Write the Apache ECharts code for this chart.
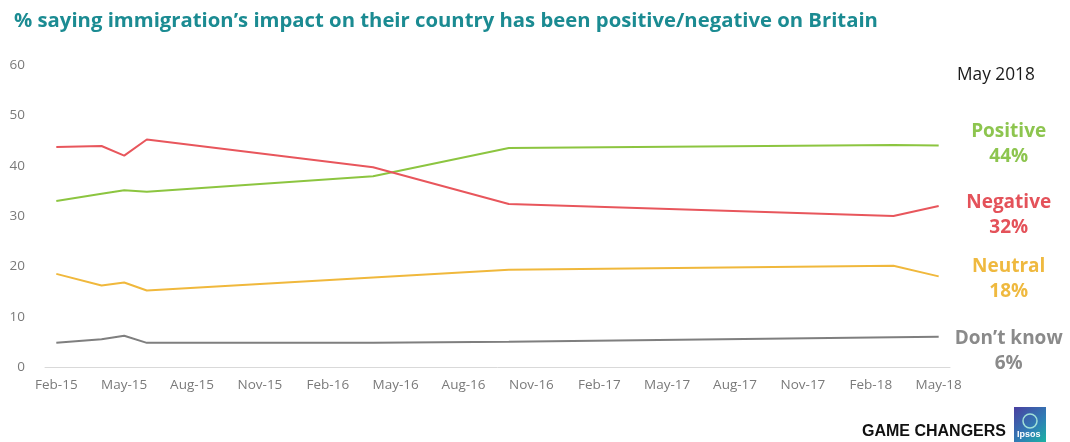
<!DOCTYPE html>
<html>
<head>
<meta charset="utf-8">
<script src="https://cdn.jsdelivr.net/npm/echarts@6/dist/echarts.min.js"></script>
<style>
  html, body { margin: 0; padding: 0; background: #ffffff; }
  #chart { width: 1070px; height: 442px; }
</style>
</head>
<body>
<div id="chart"></div>
<script>
// Monthly category axis, Feb 2015 – May 2018
const months = [
  'Feb-15','Mar-15','Apr-15','May-15','Jun-15','Jul-15','Aug-15','Sep-15','Oct-15','Nov-15','Dec-15',
  'Jan-16','Feb-16','Mar-16','Apr-16','May-16','Jun-16','Jul-16','Aug-16','Sep-16','Oct-16','Nov-16','Dec-16',
  'Jan-17','Feb-17','Mar-17','Apr-17','May-17','Jun-17','Jul-17','Aug-17','Sep-17','Oct-17','Nov-17','Dec-17',
  'Jan-18','Feb-18','Mar-18','Apr-18','May-18'
];

// Survey waves
const waves = ['Feb-15','Apr-15','May-15','Jun-15','Apr-16','Oct-16','Mar-18','May-18'];

const positive = [33, 34.4, 35.1, 34.8, 37.9, 43.5, 44.1, 44];
const negative = [43.7, 43.9, 42, 45.2, 39.7, 32.4, 30, 32];
const neutral  = [18.5, 16.2, 16.8, 15.2, 17.8, 19.3, 20.1, 18];
const dontKnow = [4.8, 5.5, 6.2, 4.8, 4.8, 5, 5.9, 6];

const yTicks = { min: 0, max: 60, step: 10 };

const seriesDefs = [
  { name: 'Positive',   values: positive, line: '#8cc540', text: '#8dc54f', dy: -1 },
  { name: 'Negative',   values: negative, line: '#e8565c', text: '#e4525a', dy: 9 },
  { name: 'Neutral',    values: neutral,  line: '#f0b83c', text: '#efb93f', dy: 3 },
  { name: 'Don\u2019t know', values: dontKnow, line: '#7f7f7f', text: '#8a8a8a', dy: 14 }
];

const chart = echarts.init(document.getElementById('chart'), null, { renderer: 'canvas' });

const series = seriesDefs.map(function (s) {
  return {
    name: s.name,
    type: 'line',
    data: waves.map(function (w, i) { return [w, s.values[i]]; }),
    symbol: 'none',
    connectNulls: true,
    lineStyle: { color: s.line, width: 2 },
    itemStyle: { color: s.line },
    z: 3,
    endLabel: {
      show: true,
      align: 'center',
      offset: [62, s.dy],
      formatter: function (p) {
        return '{n|' + p.seriesName + '}\n{v|' + Math.round(p.value[1]) + '%}';
      },
      rich: {
        n: { fontFamily: 'Open Sans', fontWeight: 'bold', fontSize: 19, color: s.text, lineHeight: 25, align: 'center' },
        v: { fontFamily: 'Open Sans', fontWeight: 'bold', fontSize: 19, color: s.text, lineHeight: 25, align: 'center' }
      }
    }
  };
});

chart.setOption({
  backgroundColor: '#ffffff',
  animation: false,
  title: {
    text: '% saying immigration\u2019s impact on their country has been positive/negative on Britain',
    left: 9,
    top: 6,
    textStyle: { fontFamily: 'Open Sans', fontWeight: 'bold', fontSize: 20.3, color: '#1b8b92' }
  },
  grid: { left: 45, right: 120, top: 65, bottom: 75, containLabel: false },
  xAxis: {
    type: 'category',
    data: months,
    boundaryGap: true,
    axisLine: { show: true, lineStyle: { color: '#d9d9d9', width: 1 } },
    axisTick: { show: false },
    axisLabel: {
      interval: 2,
      margin: 11,
      color: '#7a7a7a',
      fontFamily: 'Open Sans',
      fontSize: 13.5
    },
    splitLine: { show: false }
  },
  yAxis: {
    type: 'value',
    min: yTicks.min,
    max: yTicks.max,
    interval: yTicks.step,
    axisLine: { show: false },
    axisTick: { show: false },
    splitLine: { show: false },
    axisLabel: { margin: 20, color: '#7a7a7a', fontFamily: 'Open Sans', fontSize: 13.5 }
  },
  series: series,
  graphic: [
    {
      type: 'text', left: 957, top: 67,
      style: { text: 'May 2018', font: '17.3px "Open Sans"', fill: '#1a1a1a' }
    },
    {
      type: 'text', left: 862, top: 424,
      style: { text: 'GAME CHANGERS', font: 'bold 16px "Liberation Sans"', fill: '#111111' }
    },
    {
      type: 'group', left: 1014, top: 407,
      children: [
        {
          type: 'rect', shape: { x: 0, y: 0, width: 32, height: 35 },
          style: {
            fill: new echarts.graphic.LinearGradient(0, 0, 1, 1, [
              { offset: 0, color: '#4a3fa0' },
              { offset: 0.6, color: '#2f7fb5' },
              { offset: 1, color: '#1bb3a2' }
            ])
          }
        },
        {
          type: 'circle', shape: { cx: 16, cy: 14, r: 7 },
          style: { fill: 'rgba(0,0,0,0)', stroke: '#9fe0d8', lineWidth: 1.5 }
        },
        {
          type: 'text', left: 3, top: 23,
          style: { text: 'Ipsos', font: 'bold 9px "Liberation Sans"', fill: '#ffffff' }
        }
      ]
    }
  ]
});
</script>
</body>
</html>
